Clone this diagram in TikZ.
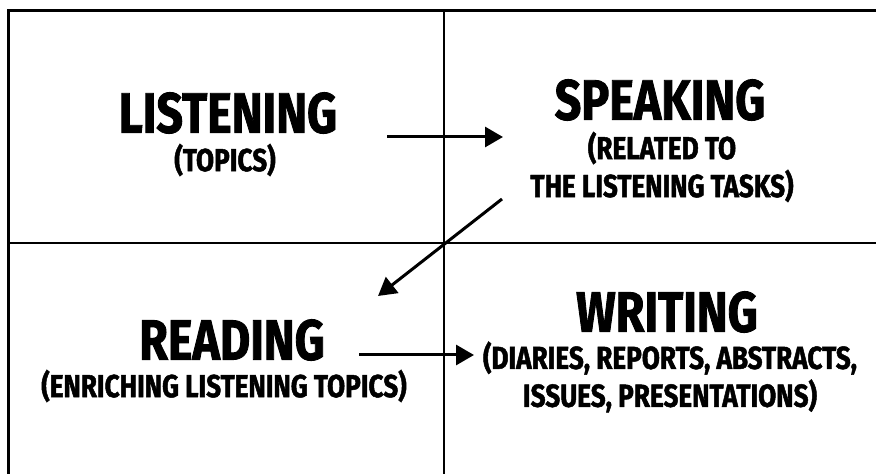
\documentclass[tikz,border=0pt]{standalone}
\usepackage{fontspec}
\newfontfamily\condfont{Fira Sans}[FakeStretch=0.82,BoldFeatures={FakeBold=1.5}]
\usetikzlibrary{arrows.meta}
\begin{document}
\begin{tikzpicture}[x=1bp,y=-1bp,
  frame/.style={line width=3bp},
  divider/.style={line width=2bp},
  flow/.style={line width=3bp,-{Triangle[length=18bp,width=20bp]}},
  title/.style={font=\condfont\bfseries\fontsize{57}{60}\selectfont,inner sep=0pt,align=center},
  sub/.style={font=\condfont\bfseries\fontsize{32}{38}\selectfont,inner sep=0pt,align=center}]
\useasboundingbox (0,0) rectangle (876,474);
% grid
\draw[frame] (8.5,474) -- (8.5,11) -- (876,11);
\draw[divider] (444,11) -- (444,474);
\draw[divider] (8,243) -- (876,243);
% quadrant labels
\node[title] (listen) at (228,113) {LISTENING};
\node[sub] (listensub) at (225,160) {(TOPICS)};
\node[title] (speak) at (660,100) {SPEAKING};
\node[sub] (speaksub) at (662,167) {(RELATED TO\\THE LISTENING TASKS)};
\node[title] (read) at (232,340) {READING};
\node[sub] (readsub) at (224,386) {(ENRICHING LISTENING TOPICS)};
\node[title] (write) at (667,312) {WRITING};
\node[sub] (writesub) at (670,377) {(DIARIES, REPORTS, ABSTRACTS,\\ISSUES, PRESENTATIONS)};
% arrow end points
\coordinate (a1s) at (387,137);
\coordinate (a1e) at (503,137);
\coordinate (a2s) at (502,199);
\coordinate (a2e) at (378,296);
\coordinate (a3s) at (359,355);
\coordinate (a3e) at (474,355);
\draw[flow] (a1s) -- (a1e);
\draw[flow] (a2s) -- (a2e);
\draw[flow] (a3s) -- (a3e);
\end{tikzpicture}
\end{document}
